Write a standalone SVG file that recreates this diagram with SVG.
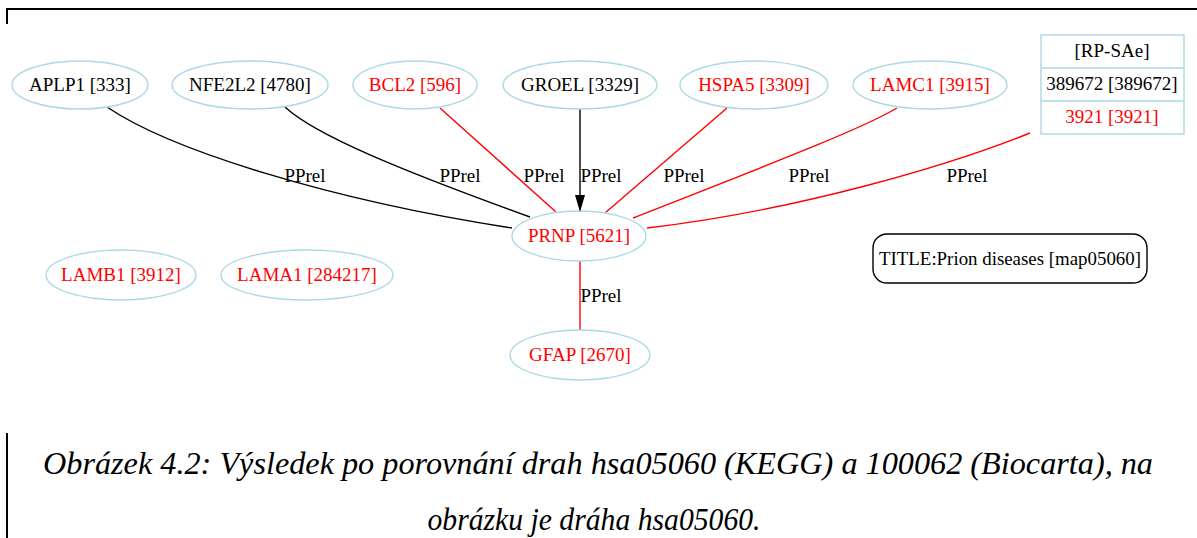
<svg xmlns="http://www.w3.org/2000/svg" width="1197" height="538" viewBox="0 0 1197 538" font-family="Liberation Serif, Tinos, Times New Roman, Times, serif">
  <style>
    .node ellipse { fill: none; stroke: #add8e6; stroke-width: 1.4; }
    .rec rect, .rec line { fill: none; stroke: #add8e6; stroke-width: 1.4; }
    text { font-family: 'Liberation Serif', 'Times New Roman', Times, serif; font-size: 19px; text-anchor: middle; fill: #000; }
    .red { fill: #ff0000; }
    .edges path { fill: none; stroke-width: 1.4; }
    .blk { stroke: #000; }
    .rd { stroke: #ff0000; }
    .frame { stroke: #000; stroke-width: 2; fill: none; }
    .caption { font-style: italic; font-size: 31px; }
  </style>
  <defs>
    <marker id="arrow" viewBox="0 0 17 10" markerWidth="17" markerHeight="10" refX="17" refY="5" orient="auto" markerUnits="userSpaceOnUse">
      <path d="M0,0 L17,5 L0,10 Z" fill="#000"/>
    </marker>
  </defs>

  <rect width="1197" height="538" fill="#fff"/>

  <!-- page frame fragments -->
  <polyline class="frame" points="7,24 7,9 1197,9"/>
  <line class="frame" x1="7" y1="433" x2="7" y2="538"/>

  <!-- connectors -->
  <g class="edges">
    <path class="blk" d="M107,107 C170,150 330,200 512,228"/>
    <path class="blk" d="M285,107 C315,135 400,170 530,217"/>
    <path class="rd" d="M440,108 L556,212"/>
    <path class="blk" d="M580,109 L580,212" marker-end="url(#arrow)"/>
    <path class="rd" d="M727,108 L605,213"/>
    <path class="rd" d="M897,108 C860,130 760,168 633,218"/>
    <path class="rd" d="M1030,133 C950,165 800,210 647,228"/>
    <path class="rd" d="M580,261 L580,330"/>
    <text x="305" y="182">PPrel</text>
    <text x="460" y="182">PPrel</text>
    <text x="544" y="182">PPrel</text>
    <text x="601" y="182">PPrel</text>
    <text x="684" y="182">PPrel</text>
    <text x="809" y="182">PPrel</text>
    <text x="967" y="182">PPrel</text>
    <text x="601" y="302">PPrel</text>
  </g>

  <!-- nodes -->
  <g id="aplp1" class="node"><ellipse cx="80" cy="85" rx="68" ry="24"/><text x="80" y="91">APLP1 [333]</text></g>
  <g id="nfe2l2" class="node"><ellipse cx="250" cy="85" rx="78" ry="24"/><text x="250" y="91">NFE2L2 [4780]</text></g>
  <g id="bcl2" class="node"><ellipse cx="415" cy="85" rx="62" ry="24"/><text class="red" x="415" y="91">BCL2 [596]</text></g>
  <g id="groel" class="node"><ellipse cx="580" cy="85" rx="77" ry="24"/><text x="580" y="91">GROEL [3329]</text></g>
  <g id="hspa5" class="node"><ellipse cx="754" cy="85" rx="74" ry="24"/><text class="red" x="754" y="91">HSPA5 [3309]</text></g>
  <g id="lamc1" class="node"><ellipse cx="930" cy="85" rx="77" ry="24"/><text class="red" x="930" y="91">LAMC1 [3915]</text></g>

  <g id="rp-sae" class="rec">
    <rect x="1041" y="35" width="143" height="99"/>
    <line x1="1041" y1="68" x2="1184" y2="68"/>
    <line x1="1041" y1="101" x2="1184" y2="101"/>
    <text x="1112" y="57">[RP-SAe]</text>
    <text x="1112" y="90">389672 [389672]</text>
    <text class="red" x="1112" y="123">3921 [3921]</text>
  </g>

  <g id="prnp" class="node"><ellipse cx="579" cy="236" rx="67" ry="25"/><text class="red" x="579" y="242">PRNP [5621]</text></g>
  <g id="lamb1" class="node"><ellipse cx="121" cy="275" rx="75" ry="25"/><text class="red" x="121" y="281">LAMB1 [3912]</text></g>
  <g id="lama1" class="node"><ellipse cx="307" cy="275" rx="86" ry="25"/><text class="red" x="307" y="281">LAMA1 [284217]</text></g>
  <g id="gfap" class="node"><ellipse cx="580" cy="355" rx="70" ry="25"/><text class="red" x="580" y="361">GFAP [2670]</text></g>

  <g id="title">
    <rect x="873" y="234" width="274" height="49" rx="14" fill="none" stroke="#000" stroke-width="1.4"/>
    <text x="1010" y="265" textLength="262" lengthAdjust="spacingAndGlyphs">TITLE:Prion diseases [map05060]</text>
  </g>

  <!-- caption -->
  <text class="caption" x="598" y="474" textLength="1110" lengthAdjust="spacingAndGlyphs">Obrázek 4.2: Výsledek po porovnání drah hsa05060 (KEGG) a 100062 (Biocarta), na</text>
  <text class="caption" x="594" y="530" textLength="333" lengthAdjust="spacingAndGlyphs">obrázku je dráha hsa05060.</text>
</svg>
